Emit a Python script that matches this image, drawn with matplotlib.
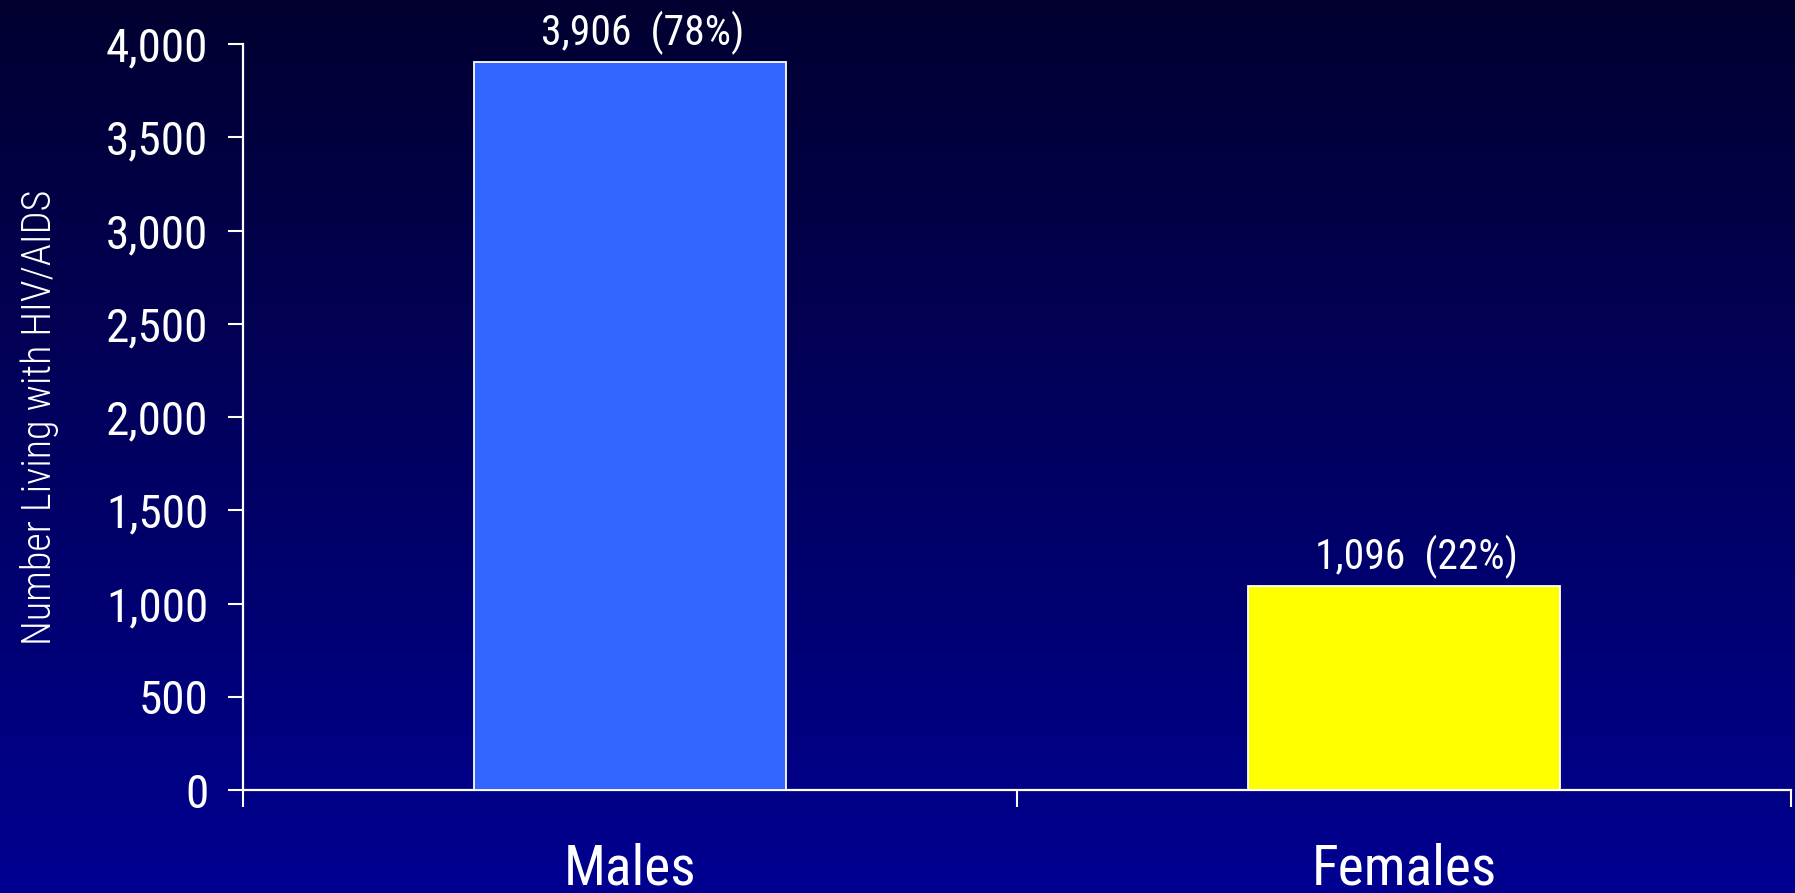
import matplotlib
matplotlib.use('Agg')
import matplotlib.pyplot as plt
from matplotlib import font_manager
from matplotlib.ticker import FuncFormatter
import numpy as np

# narrow sans font like the original slide, whichever is available
available = {f.name for f in font_manager.fontManager.ttflist}
narrow = 'DejaVu Sans'
for name in ['Liberation Sans Narrow', 'Arial Narrow', 'Roboto Condensed', 'Fira Sans Condensed']:
    if name in available:
        narrow = name
        break
plt.rcParams['font.family'] = [narrow, 'DejaVu Sans']
plt.rcParams['font.stretch'] = 'condensed'

categories = ['Males', 'Females']
counts = [3906, 1096]
percents = [78, 22]
bar_colors = ['#3366ff', '#ffff00']
yticks = [0, 500, 1000, 1500, 2000, 2500, 3000, 3500, 4000]

fig = plt.figure(figsize=(17.95, 8.93), dpi=100)

# background gradient, dark navy at top to brighter navy at bottom
bg = fig.add_axes([0, 0, 1, 1], zorder=-10)
top = np.array([2, 0, 48]) / 255.
bottom = np.array([0, 0, 145]) / 255.
t = np.linspace(0, 1, 256)[:, None, None]
grad = top[None, None, :] * (1 - t) + bottom[None, None, :] * t
grad = np.repeat(grad, 2, axis=1)
bg.imshow(grad, aspect='auto', extent=[0, 1, 0, 1], origin='upper')
bg.set_axis_off()

ax = fig.add_axes([243/1795, 103/893, 1548/1795, 746/893])
ax.patch.set_alpha(0)

x = np.arange(len(categories))
ax.bar(x, counts, width=0.403, color=bar_colors, edgecolor='white', linewidth=1.3, zorder=3)

for xi, c, p in zip(x, counts, percents):
    ax.annotate(f'{c:,}  ({p}%)', (xi, c), xytext=(9, 5), textcoords='offset points',
                ha='center', va='bottom', color='white', fontsize=30)

ax.set_xlim(-0.5, 1.5)
ax.set_ylim(0, 4000)
ax.set_yticks(yticks)
ax.yaxis.set_major_formatter(FuncFormatter(lambda v, pos: f'{int(v):,}'))

ax.set_xticks([-0.5, 0.5, 1.5])
ax.set_xticklabels(['', '', ''])
ax.set_xticks(x, minor=True)
ax.set_xticklabels(categories, minor=True)

for side in ['top', 'right']:
    ax.spines[side].set_visible(False)
for side in ['left', 'bottom']:
    ax.spines[side].set_color('white')
    ax.spines[side].set_linewidth(1.6)

ax.tick_params(axis='y', colors='white', labelsize=34, length=11, width=1.5, pad=14)
ax.tick_params(axis='x', which='major', colors='white', length=12.5, width=1.5)
ax.tick_params(axis='x', which='minor', colors='white', labelsize=40, length=0, pad=38)

ax.set_ylabel('Number Living with HIV/AIDS', color='white', fontsize=29, fontweight='light', labelpad=34)

fig.savefig('out.png', dpi=100)
